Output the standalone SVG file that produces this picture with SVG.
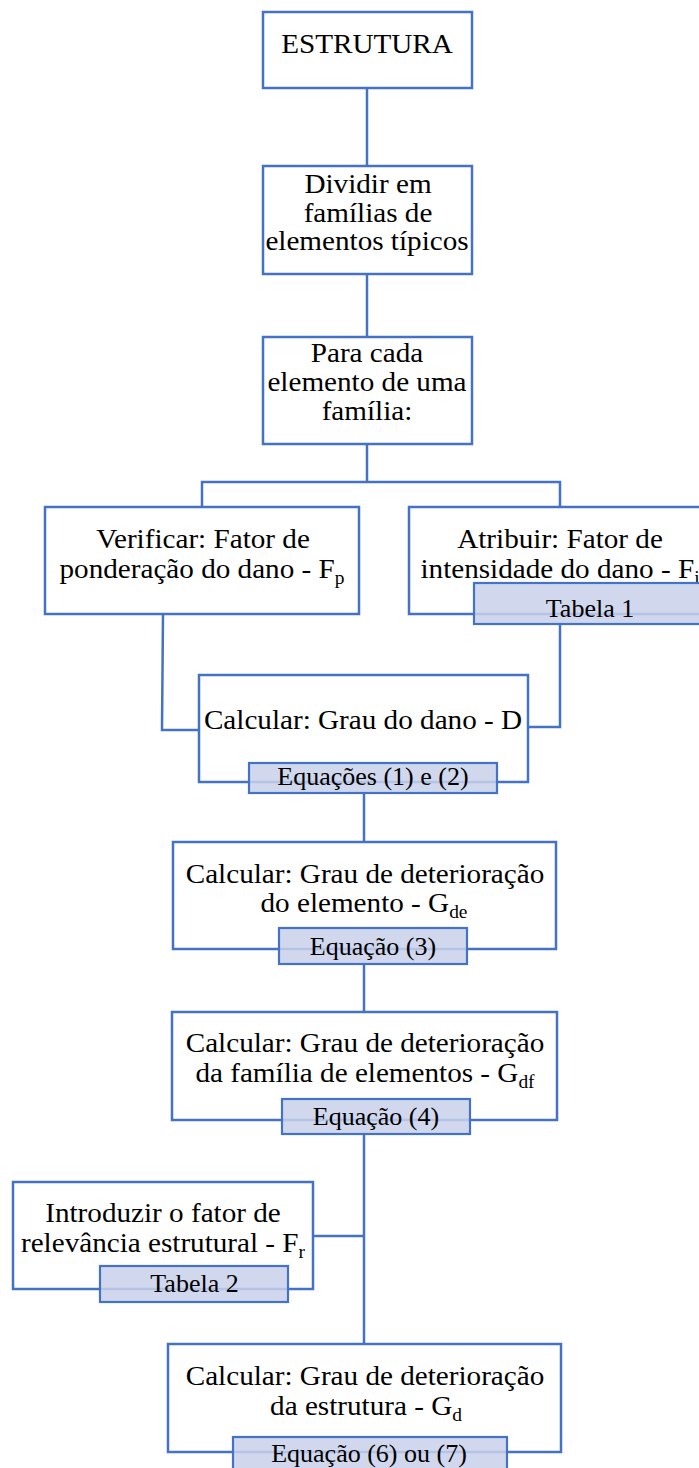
<svg xmlns="http://www.w3.org/2000/svg" width="699" height="1468" viewBox="0 0 699 1468">
<style>
.box{fill:#ffffff;stroke:#4472C4;stroke-width:2.5}
.lbl{fill:#C9D1EA;fill-opacity:0.85;stroke:#4472C4;stroke-width:2.2}
.ln{fill:none;stroke:#4472C4;stroke-width:2.5}
.t{font-family:"Liberation Serif","Times New Roman",serif;font-size:27px;fill:#000;text-anchor:middle}
.tl{font-family:"Liberation Serif","Times New Roman",serif;font-size:26px;fill:#000;text-anchor:middle}
.sub{font-size:18px}
</style>
<rect width="699" height="1468" fill="#ffffff"/>
<g id="connectors">
<path class="ln" d="M367,88 V166"/>
<path class="ln" d="M367,274 V337"/>
<path class="ln" d="M367,444 V482 M202,507 V482 H560 V507"/>
<path class="ln" d="M163,614 L162,730 H199"/>
<path class="ln" d="M560,624 V727 H528"/>
<path class="ln" d="M364,793 V842"/>
<path class="ln" d="M364,964 V1012"/>
<path class="ln" d="M364,1134 V1344"/>
<path class="ln" d="M313,1236 H364"/>
</g>
<g id="n1">
<rect class="box" x="263" y="12" width="209" height="76"/>
<text class="t" transform="translate(367,53) scale(1.08,1)">ESTRUTURA</text>
</g>
<g id="n2">
<rect class="box" x="263" y="166" width="209" height="108"/>
<text class="t" transform="translate(368,193) scale(1.08,1)">Dividir em</text>
<text class="t" transform="translate(368,222) scale(1.08,1)">famílias de</text>
<text class="t" transform="translate(367,250) scale(1.08,1)">elementos típicos</text>
</g>
<g id="n3">
<rect class="box" x="263" y="337" width="209" height="107"/>
<text class="t" transform="translate(367,362) scale(1.08,1)">Para cada</text>
<text class="t" transform="translate(367,391) scale(1.08,1)">elemento de uma</text>
<text class="t" transform="translate(367,420) scale(1.08,1)">família:</text>
</g>
<g id="n4">
<rect class="box" x="45" y="507" width="314" height="107"/>
<text class="t" transform="translate(203,548) scale(1.08,1)">Verificar: Fator de</text>
<text class="t" transform="translate(202,578) scale(1.08,1)">ponderação do dano - F<tspan class="sub" dy="6">p</tspan></text>
</g>
<g id="n5">
<rect class="box" x="409" y="507" width="310" height="107"/>
<text class="t" transform="translate(560,548) scale(1.08,1)">Atribuir: Fator de</text>
<text class="t" transform="translate(560,578) scale(1.08,1)">intensidade do dano - F<tspan class="sub" dy="6">i</tspan></text>
<rect class="lbl" x="474" y="583" width="240" height="41"/>
<text class="tl" x="590" y="617">Tabela 1</text>
</g>
<g id="n6">
<rect class="box" x="199" y="675" width="329" height="107"/>
<text class="t" transform="translate(363,729) scale(1.08,1)">Calcular: Grau do dano - D</text>
<rect class="lbl" x="249" y="763" width="248" height="30"/>
<text class="tl" x="373" y="785">Equações (1) e (2)</text>
</g>
<g id="n7">
<rect class="box" x="173" y="842" width="383" height="107"/>
<text class="t" transform="translate(365,883) scale(1.08,1)">Calcular: Grau de deterioração</text>
<text class="t" transform="translate(364,912) scale(1.08,1)">do elemento - G<tspan class="sub" dy="6">de</tspan></text>
<rect class="lbl" x="279" y="928" width="188" height="36"/>
<text class="tl" x="373" y="955">Equação (3)</text>
</g>
<g id="n8">
<rect class="box" x="172" y="1012" width="385" height="108"/>
<text class="t" transform="translate(365,1052) scale(1.08,1)">Calcular: Grau de deterioração</text>
<text class="t" transform="translate(365,1082) scale(1.08,1)">da família de elementos - G<tspan class="sub" dy="6">df</tspan></text>
<rect class="lbl" x="282" y="1099" width="188" height="35"/>
<text class="tl" x="376" y="1125">Equação (4)</text>
</g>
<g id="n9">
<rect class="box" x="13" y="1182" width="300" height="107"/>
<text class="t" transform="translate(163,1222) scale(1.08,1)">Introduzir o fator de</text>
<text class="t" transform="translate(163,1252) scale(1.08,1)">relevância estrutural - F<tspan class="sub" dy="6">r</tspan></text>
<rect class="lbl" x="100" y="1266" width="188" height="36"/>
<text class="tl" x="194.5" y="1292">Tabela 2</text>
</g>
<g id="n10">
<rect class="box" x="168" y="1344" width="393" height="108"/>
<text class="t" transform="translate(365,1385) scale(1.08,1)">Calcular: Grau de deterioração</text>
<text class="t" transform="translate(366,1415) scale(1.08,1)">da estrutura - G<tspan class="sub" dy="6">d</tspan></text>
<rect class="lbl" x="233" y="1437" width="274" height="40"/>
<text class="tl" x="369" y="1462">Equação (6) ou (7)</text>
</g>
</svg>
